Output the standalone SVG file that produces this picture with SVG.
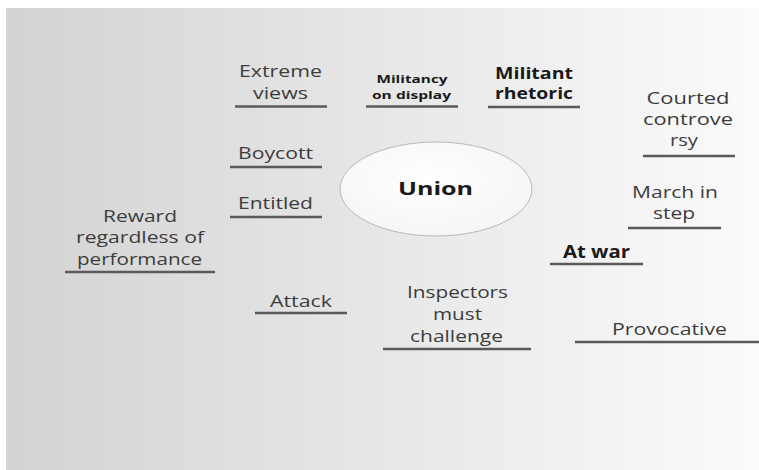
<svg xmlns="http://www.w3.org/2000/svg" width="759" height="470" viewBox="0 0 759 470">
<defs>
<linearGradient id="bg" x1="0" y1="0" x2="1" y2="0">
<stop offset="0" stop-color="#d3d3d3"/>
<stop offset="1" stop-color="#fbfbfb"/>
</linearGradient>
<radialGradient id="ell" cx="0.45" cy="0.4" r="0.7">
<stop offset="0" stop-color="#ffffff"/>
<stop offset="1" stop-color="#f4f4f4"/>
</radialGradient>
</defs>
<style>
text{font-family:"Open Sans","DejaVu Sans",sans-serif;text-anchor:middle;}
.r{font-size:17px;fill:#3c3c3c;}
.b{font-weight:bold;fill:#1a1a1a;}
.u{stroke:#5a5a5a;stroke-width:2.5;fill:none;}
</style>
<rect x="0" y="0" width="759" height="470" fill="#ffffff"/>
<rect x="6" y="8" width="753" height="462" fill="url(#bg)"/>
<g id="connectors"/>
<g id="union">
<ellipse cx="436" cy="189" rx="96" ry="47" fill="url(#ell)" stroke="#b8b8b8" stroke-width="1"/>
<text class="b" x="435.5" y="195" font-size="18" textLength="75" lengthAdjust="spacingAndGlyphs">Union</text>
</g>
<g id="extreme-views">
<text class="r" x="280.5" y="77" textLength="83" lengthAdjust="spacingAndGlyphs">Extreme</text>
<text class="r" x="280.5" y="99" textLength="55" lengthAdjust="spacingAndGlyphs">views</text>
<line class="u" x1="235" y1="106.5" x2="327" y2="106.5"/>
</g>
<g id="militancy-on-display">
<text class="b" x="412" y="83" font-size="11" textLength="71" lengthAdjust="spacingAndGlyphs">Militancy</text>
<text class="b" x="411.5" y="98.5" font-size="11" textLength="79" lengthAdjust="spacingAndGlyphs">on display</text>
<line class="u" x1="366" y1="106.5" x2="458" y2="106.5"/>
</g>
<g id="militant-rhetoric">
<text class="b" x="534" y="78.5" font-size="16" textLength="78" lengthAdjust="spacingAndGlyphs">Militant</text>
<text class="b" x="534" y="98.5" font-size="16" textLength="78" lengthAdjust="spacingAndGlyphs">rhetoric</text>
<line class="u" x1="488" y1="107" x2="580" y2="107"/>
</g>
<g id="courted-controversy">
<text class="r" x="688" y="104" textLength="83" lengthAdjust="spacingAndGlyphs">Courted</text>
<text class="r" x="688" y="125" textLength="90" lengthAdjust="spacingAndGlyphs">controve</text>
<text class="r" x="684" y="146" textLength="28" lengthAdjust="spacingAndGlyphs">rsy</text>
<line class="u" x1="643" y1="156" x2="735" y2="156"/>
</g>
<g id="march-in-step">
<text class="r" x="675" y="198" textLength="86" lengthAdjust="spacingAndGlyphs">March in</text>
<text class="r" x="674" y="219" textLength="42" lengthAdjust="spacingAndGlyphs">step</text>
<line class="u" x1="628" y1="228" x2="721" y2="228"/>
</g>
<g id="boycott">
<text class="r" x="275.5" y="159" textLength="75" lengthAdjust="spacingAndGlyphs">Boycott</text>
<line class="u" x1="230" y1="167" x2="322" y2="167"/>
</g>
<g id="entitled">
<text class="r" x="275.5" y="209" textLength="75" lengthAdjust="spacingAndGlyphs">Entitled</text>
<line class="u" x1="230" y1="217" x2="322" y2="217"/>
</g>
<g id="reward">
<text class="r" x="140" y="222" textLength="74" lengthAdjust="spacingAndGlyphs">Reward</text>
<text class="r" x="140" y="243" textLength="128" lengthAdjust="spacingAndGlyphs">regardless of</text>
<text class="r" x="139.5" y="265" textLength="125" lengthAdjust="spacingAndGlyphs">performance</text>
<line class="u" x1="65" y1="272" x2="215" y2="272"/>
</g>
<g id="attack">
<text class="r" x="301" y="307" textLength="62" lengthAdjust="spacingAndGlyphs">Attack</text>
<line class="u" x1="255" y1="313" x2="347" y2="313"/>
</g>
<g id="inspectors">
<text class="r" x="457.5" y="298" textLength="101" lengthAdjust="spacingAndGlyphs">Inspectors</text>
<text class="r" x="457.5" y="320" textLength="49" lengthAdjust="spacingAndGlyphs">must</text>
<text class="r" x="456.5" y="342" textLength="93" lengthAdjust="spacingAndGlyphs">challenge</text>
<line class="u" x1="383" y1="349" x2="531" y2="349"/>
</g>
<g id="at-war">
<text class="b" x="596.5" y="258" font-size="17" textLength="67" lengthAdjust="spacingAndGlyphs">At war</text>
<line class="u" x1="550" y1="264" x2="643" y2="264"/>
</g>
<g id="provocative">
<text class="r" x="669.5" y="335" textLength="115" lengthAdjust="spacingAndGlyphs">Provocative</text>
<line class="u" x1="575" y1="342" x2="759" y2="342"/>
</g>
</svg>
